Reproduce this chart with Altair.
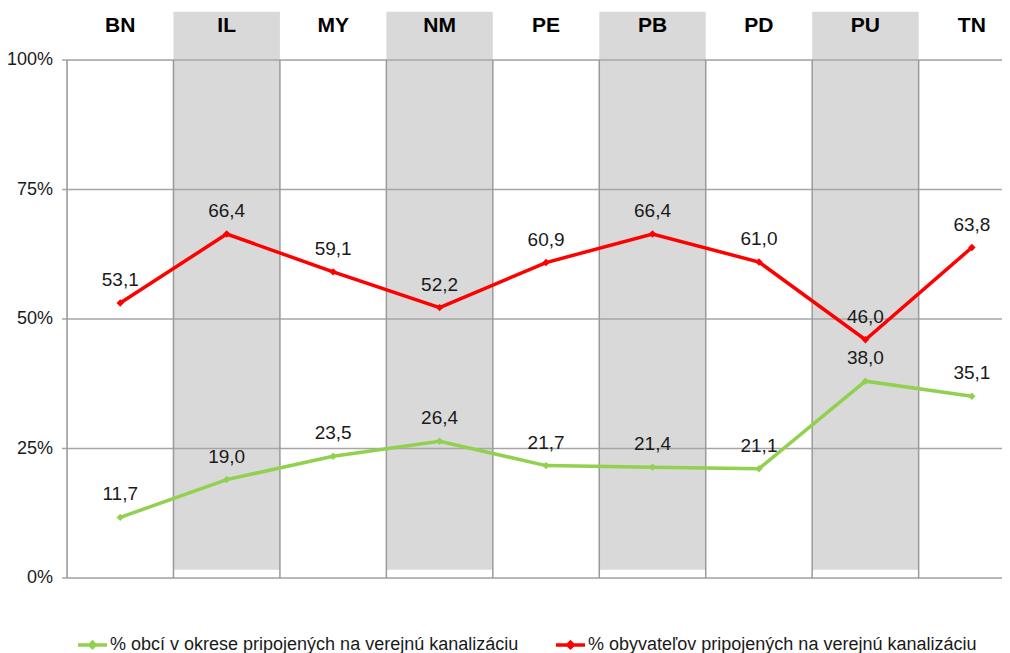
import altair as alt
import pandas as pd

# ---------------- data ----------------
districts = ["BN", "IL", "MY", "NM", "PE", "PB", "PD", "PU", "TN"]
obce = [11.7, 19.0, 23.5, 26.4, 21.7, 21.4, 21.1, 38.0, 35.1]
obyvatelia = [53.1, 66.4, 59.1, 52.2, 60.9, 66.4, 61.0, 46.0, 63.8]
series_names = [
    "% obcí v okrese pripojených na verejnú kanalizáciu",
    "% obyvateľov pripojených na verejnú kanalizáciu",
]
series_colors = ["#92d050", "#ff0000"]
y_ticks = [0, 25, 50, 75, 100]
y_tick_labels = ["0%", "25%", "50%", "75%", "100%"]
shaded = ["IL", "NM", "PB", "PU"]

# ---------------- tables ----------------
rows = []
for name, vals in zip(series_names, [obce, obyvatelia]):
    for i, d in enumerate(districts):
        rows.append({
            "pos": i + 0.5,
            "district": d,
            "series": name,
            "value": vals[i],
            "label": f"{vals[i]:.1f}".replace(".", ","),
        })
df = pd.DataFrame(rows)

cat_df = pd.DataFrame({
    "district": districts,
    "pos": [i + 0.5 for i in range(len(districts))],
    "start": list(range(len(districts))),
    "end": list(range(1, len(districts) + 1)),
})
band_df = cat_df[cat_df["district"].isin(shaded)]
sep_df = pd.DataFrame({"b": list(range(len(districts)))})
tick_df = pd.DataFrame({"tick": y_ticks, "tlabel": y_tick_labels})

W, H = 935, 518
FONT = "Liberation Sans"
TXT = "#1a1a1a"
GRID = "#a6a6a6"

xs = alt.Scale(domain=[0, 8.783], nice=False, zero=False)
ys = alt.Scale(domain=[0, 100], nice=False, zero=False)

bands = alt.Chart(band_df).mark_rect(color="#d9d9d9").encode(
    x=alt.X("start:Q", scale=xs, axis=None),
    x2="end:Q",
    y=alt.Y(datum=1.6, scale=ys, axis=None),
    y2=alt.datum(109.3),
)

hgrid = alt.Chart(tick_df).mark_rule(color=GRID, strokeWidth=1.5).encode(
    y=alt.Y("tick:Q", scale=ys, axis=None),
    x=alt.value(-5),
    x2=alt.value(W),
)

ylabels = alt.Chart(tick_df).mark_text(align="right", baseline="middle", fontSize=18,
                                       font=FONT, color=TXT, dx=-14).encode(
    y=alt.Y("tick:Q", scale=ys, axis=None),
    x=alt.value(0),
    text="tlabel:N",
)

vgrid = alt.Chart(sep_df).mark_rule(color="#9a9a9a", strokeWidth=1.5).encode(
    x=alt.X("b:Q", scale=xs, axis=None),
    y=alt.Y(datum=0, scale=ys, axis=None),
    y2=alt.datum(100),
)

color = alt.Color(
    "series:N",
    scale=alt.Scale(domain=series_names, range=series_colors),
    legend=alt.Legend(
        title=None, orient="none", direction="horizontal",
        legendX=9, legendY=568,
        symbolType="M-1,0L1,0M0,-0.18L0.18,0L0,0.18L-0.18,0Z",
        symbolSize=841, symbolStrokeWidth=3.5,
        labelFontSize=18, labelFont=FONT, labelColor=TXT,
        labelOffset=1, columnPadding=30, labelLimit=0,
    ),
)

lines = alt.Chart(df).mark_line(strokeWidth=3.5).encode(
    x=alt.X("pos:Q", scale=xs, axis=None),
    y=alt.Y("value:Q", scale=ys, axis=None),
    color=color,
    order="pos:Q",
)

points = alt.Chart(df).mark_point(shape="diamond", filled=True, size=55, opacity=1).encode(
    x=alt.X("pos:Q", scale=xs, axis=None),
    y=alt.Y("value:Q", scale=ys, axis=None),
    color=alt.Color("series:N", scale=alt.Scale(domain=series_names, range=series_colors), legend=None),
)

labels = alt.Chart(df).mark_text(dy=-23, fontSize=19, font=FONT, color=TXT).encode(
    x=alt.X("pos:Q", scale=xs, axis=None),
    y=alt.Y("value:Q", scale=ys, axis=None),
    text="label:N",
)

cats = alt.Chart(cat_df).mark_text(fontSize=21, fontWeight="bold", font=FONT, color="#000000").encode(
    x=alt.X("pos:Q", scale=xs, axis=None),
    y=alt.Y(datum=106.6, scale=ys, axis=None),
    text="district:N",
)

chart = alt.layer(bands, hgrid, vgrid, ylabels, lines, points, labels, cats).properties(
    width=W, height=H,
    autosize=alt.AutoSizeParams(type="none"),
    padding={"left": 59, "top": 52, "right": 0, "bottom": 85},
).configure_view(stroke=None).configure(font=FONT)

chart.save("out.html", embed_options={"renderer": "svg", "actions": False})
